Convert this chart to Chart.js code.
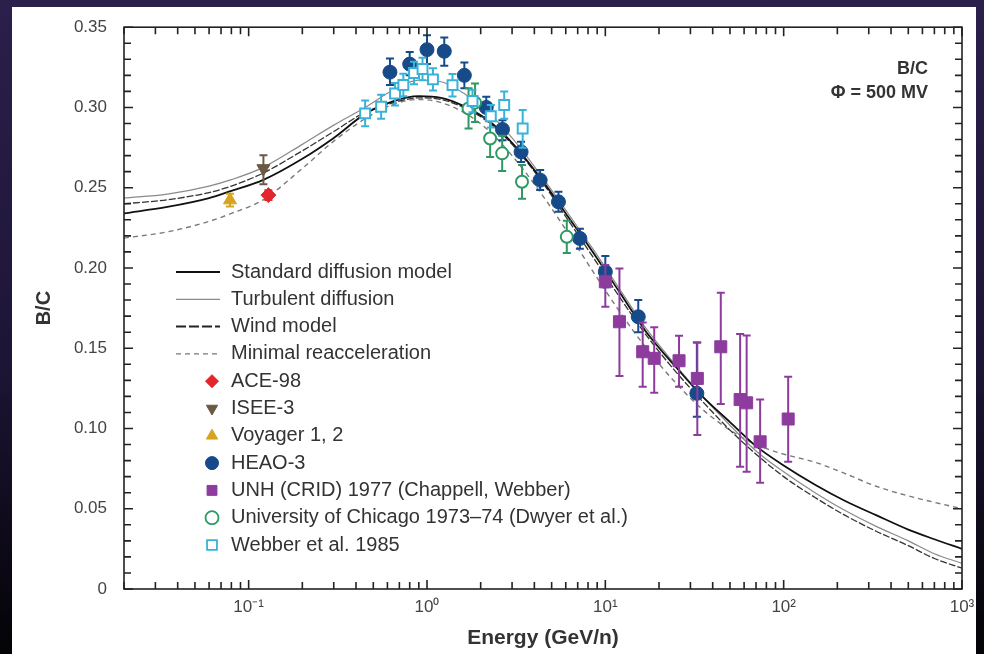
<!DOCTYPE html>
<html>
<head>
<meta charset="utf-8">
<script src="https://cdn.jsdelivr.net/npm/chart.js@4.4.1/dist/chart.umd.min.js"></script>
<style>
  html, body { margin: 0; padding: 0; }
  body {
    width: 984px; height: 654px; position: relative; overflow: hidden;
    background: linear-gradient(to bottom, #2b1f4b 0%, #1d1536 55%, #040306 100%);
  }
  #paper { position: absolute; left: 12px; top: 7px; width: 964px; height: 647px; background: #fff; }
  #wrap { position: absolute; left: 0; top: 0; width: 984px; height: 654px; }
</style>
</head>
<body>
<div id="paper"></div>
<div id="wrap"><canvas id="chart" width="984" height="654"></canvas></div>
<script>
// ---- axis ticks ----
const xTickValues = [0.1, 1, 10, 100, 1000];
const xTickLabels = ["10\u207B\u00B9", "10\u2070", "10\u00B9", "10\u00B2", "10\u00B3"];
const yTickValues = [0, 0.05, 0.10, 0.15, 0.20, 0.25, 0.30, 0.35];
const yTickLabels = ["0", "0.05", "0.10", "0.15", "0.20", "0.25", "0.30", "0.35"];

// ---- model curves (E in GeV/n) ----
const energyGrid = [0.02, 0.035, 0.06, 0.08, 0.12, 0.2, 0.3, 0.45, 0.65, 0.9, 1.2, 1.6, 2.2, 3, 4.2, 6, 8.5, 12, 17, 25, 35, 50, 70, 100, 150, 220, 330, 500, 700, 1000];
const standardModel = [0.234, 0.238, 0.2435, 0.248, 0.2547, 0.268, 0.281, 0.296, 0.304, 0.307, 0.306, 0.301, 0.292, 0.278, 0.258, 0.234, 0.21, 0.185, 0.16, 0.138, 0.12, 0.104, 0.089, 0.077, 0.065, 0.055, 0.046, 0.037, 0.031, 0.025];
const turbulentModel = [0.2435, 0.246, 0.251, 0.255, 0.2625, 0.277, 0.289, 0.300, 0.311, 0.317, 0.316, 0.309, 0.297, 0.281, 0.26, 0.236, 0.212, 0.187, 0.162, 0.139, 0.12, 0.102, 0.086, 0.073, 0.06, 0.049, 0.039, 0.03, 0.022, 0.016];
const windModel = [0.240, 0.2425, 0.247, 0.251, 0.259, 0.273, 0.285, 0.297, 0.303, 0.306, 0.305, 0.300, 0.291, 0.277, 0.257, 0.232, 0.207, 0.182, 0.158, 0.135, 0.117, 0.099, 0.084, 0.07, 0.057, 0.046, 0.036, 0.027, 0.019, 0.013];
const minimalModel = [0.2186, 0.2225, 0.229, 0.234, 0.2423, 0.262, 0.279, 0.293, 0.302, 0.305, 0.303, 0.297, 0.286, 0.27, 0.249, 0.224, 0.198, 0.173, 0.15, 0.128, 0.112, 0.099, 0.09, 0.084, 0.079, 0.072, 0.064, 0.058, 0.054, 0.05];

// ---- measurements ----
const aceE = [0.129], aceBC = [0.2454], aceHi = [0.2484], aceLo = [0.2424];
const iseeE = [0.121], iseeBC = [0.262], iseeHi = [0.2703], iseeLo = [0.2522];
const voyE = [0.0786], voyBC = [0.2423], voyHi = [0.2463], voyLo = [0.2383];

const heaoE  = [0.62, 0.80, 1.0, 1.25, 1.62, 2.15, 2.65, 3.37, 4.31, 5.46, 7.2, 10.0, 15.3, 32.6];
const heaoBC = [0.322, 0.327, 0.336, 0.335, 0.320, 0.300, 0.2863, 0.2723, 0.2547, 0.2412, 0.2184, 0.1976, 0.1696, 0.1219];
const heaoHi = [0.3305, 0.3346, 0.345, 0.3436, 0.328, 0.3066, 0.292, 0.2786, 0.261, 0.2475, 0.2245, 0.2074, 0.18, 0.1536];
const heaoLo = [0.314, 0.320, 0.327, 0.326, 0.312, 0.294, 0.2796, 0.266, 0.2485, 0.235, 0.212, 0.188, 0.16, 0.1073];

const unhE  = [10.0, 12.0, 16.2, 18.8, 25.9, 32.8, 44.4, 57, 62, 73.8, 106];
const unhBC = [0.1914, 0.1665, 0.1478, 0.1437, 0.1422, 0.1312, 0.1509, 0.118, 0.116, 0.0917, 0.1059];
const unhHi = [0.2018, 0.1997, 0.166, 0.163, 0.1578, 0.1536, 0.1845, 0.1588, 0.158, 0.1181, 0.1322];
const unhLo = [0.1758, 0.1327, 0.126, 0.1223, 0.126, 0.0959, 0.1152, 0.0762, 0.073, 0.0662, 0.0793];

const chicagoE  = [1.71, 1.86, 2.26, 2.64, 3.41, 6.08];
const chicagoBC = [0.2994, 0.303, 0.2807, 0.2714, 0.2537, 0.2194];
const chicagoHi = [0.3119, 0.315, 0.2922, 0.2824, 0.2642, 0.2294];
const chicagoLo = [0.2869, 0.291, 0.2692, 0.2604, 0.2432, 0.2094];

const webberE  = [0.45, 0.553, 0.662, 0.737, 0.846, 0.944, 1.08, 1.39, 1.80, 2.28, 2.71, 3.44];
const webberBC = [0.2963, 0.3004, 0.3087, 0.314, 0.3215, 0.324, 0.3175, 0.3139, 0.304, 0.2945, 0.3015, 0.2869];
const webberHi = [0.3043, 0.3079, 0.3152, 0.321, 0.3285, 0.331, 0.3245, 0.3209, 0.311, 0.3015, 0.31, 0.2984];
const webberLo = [0.2883, 0.2929, 0.3012, 0.307, 0.3145, 0.317, 0.3105, 0.3069, 0.297, 0.2875, 0.293, 0.2749];

const zip = (xs, ys) => xs.map((x, i) => ({ x: x, y: ys[i] }));

// === curve + point datasets ===
const lineSet = (label, ys, color, width, dash) => ({
  label, data: zip(energyGrid, ys), showLine: true, pointRadius: 0,
  borderColor: color, borderWidth: width, borderDash: dash,
  cubicInterpolationMode: "monotone", order: 10
});
const pointSet = (label, xs, ys, hi, lo, style) => Object.assign({
  label, data: zip(xs, ys), errHi: hi, errLo: lo, showLine: false
}, style);

const datasets = [
  pointSet("ACE-98", aceE, aceBC, aceHi, aceLo, { pointStyle: "rectRot", pointRadius: 7.5, backgroundColor: "#e3262b", borderColor: "#e3262b", borderWidth: 1, order: 1 }),
  pointSet("ISEE-3", iseeE, iseeBC, iseeHi, iseeLo, { pointStyle: "triangle", rotation: 180, pointRadius: 7.5, backgroundColor: "#6b5943", borderColor: "#6b5943", borderWidth: 1, order: 1 }),
  pointSet("Voyager 1, 2", voyE, voyBC, voyHi, voyLo, { pointStyle: "triangle", pointRadius: 7.5, backgroundColor: "#d6a41f", borderColor: "#d6a41f", borderWidth: 1, order: 1 }),
  pointSet("Webber et al. 1985", webberE, webberBC, webberHi, webberLo, { pointStyle: "rect", pointRadius: 7, backgroundColor: "#fff", borderColor: "#39b2da", borderWidth: 2, order: 2 }),
  pointSet("University of Chicago 1973\u201374 (Dwyer et al.)", chicagoE, chicagoBC, chicagoHi, chicagoLo, { pointStyle: "circle", pointRadius: 6, backgroundColor: "#fff", borderColor: "#2c9a62", borderWidth: 2, order: 3 }),
  pointSet("UNH (CRID) 1977 (Chappell, Webber)", unhE, unhBC, unhHi, unhLo, { pointStyle: "rect", pointRadius: 8.5, backgroundColor: "#8d3c9e", borderColor: "#8d3c9e", borderWidth: 1, order: 4 }),
  pointSet("HEAO-3", heaoE, heaoBC, heaoHi, heaoLo, { pointStyle: "circle", pointRadius: 7, backgroundColor: "#164a88", borderColor: "#164a88", borderWidth: 1, order: 5 }),
  lineSet("Standard diffusion model", standardModel, "#111", 1.8, []),
  lineSet("Turbulent diffusion", turbulentModel, "#8a8a8a", 1.2, []),
  lineSet("Wind model", windModel, "#333", 1.3, [7, 2]),
  lineSet("Minimal reacceleration", minimalModel, "#7a7a7a", 1.4, [5, 4])
];

// === error bars, drawn just under each point set ===
const errorBars = {
  id: "errorBars",
  beforeDatasetDraw(chart, args) {
    const ds = chart.data.datasets[args.index];
    if (!ds.errHi) return;
    const { ctx, scales: { x, y } } = chart;
    ctx.save();
    ctx.strokeStyle = ds.borderColor;
    ctx.lineWidth = 2;
    ds.data.forEach((p, i) => {
      const px = x.getPixelForValue(p.x);
      const top = y.getPixelForValue(ds.errHi[i]);
      const bot = y.getPixelForValue(ds.errLo[i]);
      ctx.beginPath();
      ctx.moveTo(px, top); ctx.lineTo(px, bot);
      ctx.moveTo(px - 4, top); ctx.lineTo(px + 4, top);
      ctx.moveTo(px - 4, bot); ctx.lineTo(px + 4, bot);
      ctx.stroke();
    });
    ctx.restore();
  }
};

// === frame with inward ticks on all four sides ===
const frameTicks = {
  id: "frameTicks",
  afterDraw(chart) {
    const { ctx, chartArea: a, scales: { x, y } } = chart;
    ctx.save();
    ctx.strokeStyle = "#222";
    ctx.lineWidth = 1.6;
    ctx.strokeRect(a.left, a.top, a.right - a.left, a.bottom - a.top);
    ctx.beginPath();
    for (let d = -2; d <= 3; d++) {
      for (let m = 1; m <= 9; m++) {
        const v = m * Math.pow(10, d);
        if (v < 0.02 - 1e-9 || v > 1000 + 1e-9) continue;
        const px = x.getPixelForValue(v);
        const len = m === 1 ? 9 : 7;
        ctx.moveTo(px, a.bottom); ctx.lineTo(px, a.bottom - len);
        ctx.moveTo(px, a.top); ctx.lineTo(px, a.top + len);
      }
    }
    for (let i = 0; i <= 35; i++) {
      const py = y.getPixelForValue(i / 100);
      const len = i % 5 === 0 ? 9 : 7;
      ctx.moveTo(a.left, py); ctx.lineTo(a.left + len, py);
      ctx.moveTo(a.right, py); ctx.lineTo(a.right - len, py);
    }
    ctx.stroke();
    ctx.restore();
  }
};

// === legend inside the plot + B/C label ===
const legendRows = [
  { text: "Standard diffusion model", line: { color: "#111", width: 2, dash: [] } },
  { text: "Turbulent diffusion", line: { color: "#8a8a8a", width: 1.3, dash: [] } },
  { text: "Wind model", line: { color: "#222", width: 2, dash: [10, 3] } },
  { text: "Minimal reacceleration", line: { color: "#777", width: 1.4, dash: [5, 4] } },
  { text: "ACE-98", set: 0 },
  { text: "ISEE-3", set: 1 },
  { text: "Voyager 1, 2", set: 2 },
  { text: "HEAO-3", set: 6 },
  { text: "UNH (CRID) 1977 (Chappell, Webber)", set: 5 },
  { text: "University of Chicago 1973\u201374 (Dwyer et al.)", set: 4 },
  { text: "Webber et al. 1985", set: 3 }
];

const insideLegend = {
  id: "insideLegend",
  afterDraw(chart) {
    const { ctx } = chart;
    ctx.save();
    ctx.font = "20px 'Liberation Sans', Arial, sans-serif";
    ctx.textBaseline = "middle";
    legendRows.forEach((row, i) => {
      const yy = 272 + i * 27.3;
      if (row.line) {
        ctx.strokeStyle = row.line.color;
        ctx.lineWidth = row.line.width;
        ctx.setLineDash(row.line.dash);
        ctx.beginPath(); ctx.moveTo(176, yy); ctx.lineTo(220, yy); ctx.stroke();
        ctx.setLineDash([]);
      } else {
        const ds = chart.data.datasets[row.set];
        ctx.fillStyle = ds.backgroundColor;
        ctx.strokeStyle = ds.borderColor;
        ctx.lineWidth = ds.borderWidth === 2 ? 1.8 : 1;
        Chart.helpers.drawPoint(ctx, {
          pointStyle: ds.pointStyle, rotation: ds.rotation || 0,
          radius: ds.pointStyle === "rect" ? 7 : 6.5, borderWidth: ctx.lineWidth
        }, 212, yy);
      }
      ctx.fillStyle = "#333";
      ctx.textAlign = "left";
      ctx.fillText(row.text, 231, yy);
    });
    ctx.font = "bold 18px 'Liberation Sans', Arial, sans-serif";
    ctx.textAlign = "right";
    ctx.fillStyle = "#333";
    ctx.fillText("B/C", 928, 69);
    ctx.fillText("\u03A6 = 500 MV", 928, 93);
    ctx.restore();
  }
};

new Chart(document.getElementById("chart"), {
  type: "scatter",
  data: { datasets },
  options: {
    responsive: false,
    animation: false,
    layout: { padding: { left: 0, top: 27, right: 22, bottom: 0 } },
    plugins: { legend: { display: false }, tooltip: { enabled: false } },
    scales: {
      x: {
        type: "logarithmic", position: "bottom", min: 0.02, max: 1000,
        afterBuildTicks: s => { s.ticks = xTickValues.map(v => ({ value: v })); },
        afterFit: s => { s.height = 65; },
        ticks: {
          autoSkip: false, maxRotation: 0, padding: 8, color: "#444",
          font: { family: "'Liberation Sans', Arial, sans-serif", size: 17 },
          callback: (v, i) => xTickLabels[i]
        },
        grid: { display: false, drawTicks: false },
        border: { display: false },
        title: {
          display: true, text: "Energy (GeV/n)", color: "#333",
          font: { family: "'Liberation Sans', Arial, sans-serif", size: 21, weight: "bold" },
          padding: { top: 0, bottom: 3 }
        }
      },
      y: {
        type: "linear", position: "left", min: 0, max: 0.35,
        afterBuildTicks: s => { s.ticks = yTickValues.map(v => ({ value: v })); },
        afterFit: s => { s.width = 124; },
        ticks: {
          padding: 17, color: "#444",
          font: { family: "'Liberation Sans', Arial, sans-serif", size: 17 },
          callback: (v, i) => yTickLabels[i]
        },
        grid: { display: false, drawTicks: false },
        border: { display: false },
        title: {
          display: true, text: "B/C", color: "#333",
          font: { family: "'Liberation Sans', Arial, sans-serif", size: 20, weight: "bold" },
          padding: { top: 32, bottom: 0 }
        }
      }
    }
  },
  plugins: [errorBars, frameTicks, insideLegend]
});
</script>
</body>
</html>
